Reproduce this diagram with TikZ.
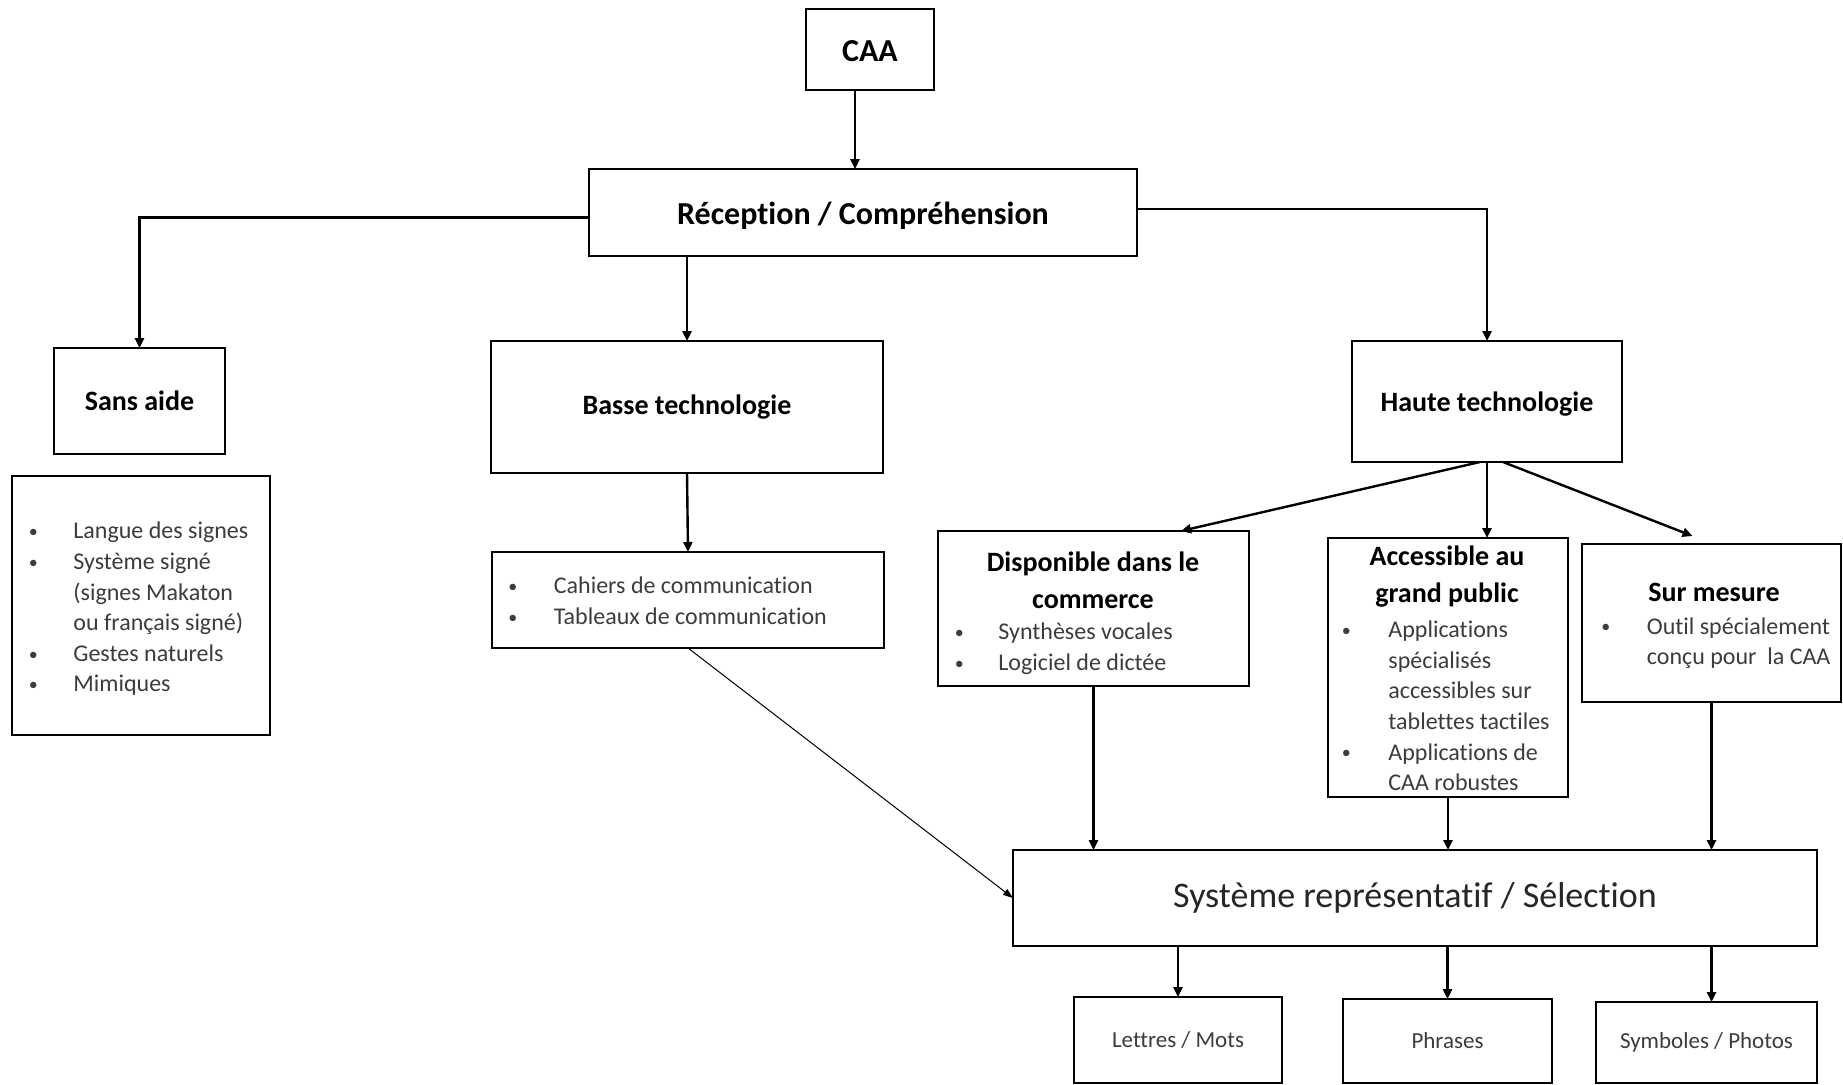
\documentclass[tikz,border=0pt]{standalone}
\usepackage{fontspec}
\setmainfont{Carlito}[Ligatures=NoCommon]
\usetikzlibrary{arrows.meta}
\definecolor{listgray}{RGB}{60,60,60}
\newcommand\bulx[1]{\makebox[0pt]{\raisebox{0.6pt}{\fontsize{9}{9}\selectfont •}}\hspace*{#1}}
\newcommand\indx[1]{\hspace*{#1}}
\begin{document}
\begin{tikzpicture}[x=0.5pt,y=-0.5pt,
  box/.style={draw=black,line width=1.4pt,inner sep=0pt,outer sep=0pt,fill=white},
  arr/.style={line width=1.2pt,-{Triangle[length=5pt,width=4.5pt]}},
  thinarr/.style={line width=0.5pt,-{Triangle[length=5pt,width=3.5pt]}},
  bigt/.style={font=\fontsize{16}{19}\selectfont\bfseries,text height=14pt,text depth=2pt},
  ttl/.style={font=\fontsize{14}{18.5}\selectfont\bfseries,align=center,inner sep=0pt},
  lst/.style={font=\fontsize{12}{15.3}\selectfont,align=left,inner sep=0pt,text=listgray},
  sml/.style={font=\fontsize{11.5}{14}\selectfont,text=listgray},
  syst/.style={font=\fontsize{18}{22}\selectfont,text=black!85}
]
\fill[white] (0,0) rectangle (1843,1084);
\useasboundingbox (0,0) rectangle (1843,1084);

% boxes
\node[box,bigt,minimum width=64pt,minimum height=40.5pt] (caa) at (870,49.5) {CAA};
\node[box,bigt,minimum width=274pt,minimum height=43.5pt] (rec) at (863,212.5) {Réception / Compréhension};
\node[box,ttl,minimum width=85.5pt,minimum height=53pt] (sans) at (139.5,401) {Sans aide};
\node[box,minimum width=129pt,minimum height=129.5pt] (sansl) at (141,605.5) {};
\node[box,ttl,minimum width=196pt,minimum height=66pt] (basse) at (687,407) {Basse technologie};
\node[box,minimum width=196pt,minimum height=48pt] (bassel) at (688,600) {};
\node[box,ttl,text height=12.5pt,text depth=2.5pt,minimum width=135pt,minimum height=60.5pt] (haute) at (1487,401.5) {Haute technologie};
\node[box,minimum width=155.5pt,minimum height=77.5pt] (disp) at (1093.5,608.5) {};
\node[box,minimum width=120pt,minimum height=129.5pt] (acc) at (1448,667.5) {};
\node[box,minimum width=129.5pt,minimum height=79pt] (sur) at (1711.5,623) {};
\node[box,syst,minimum width=402pt,minimum height=48pt] (sys) at (1415,898) {Système représentatif / Sélection};
\node[box,sml,minimum width=104pt,minimum height=43pt] (let) at (1178,1040) {Lettres / Mots};
\node[box,sml,minimum width=104.5pt,minimum height=42pt] (phr) at (1447.5,1041) {Phrases};
\node[box,sml,minimum width=110.5pt,minimum height=40.5pt] (sym) at (1706.5,1042.5) {Symboles / Photos};

% texts inside list boxes
\node[lst,anchor=west] (sanst) at (33,609) {\bulx{20pt}Langue des signes\\\bulx{20pt}Système signé\\\indx{20pt}(signes Makaton\\\indx{20pt}ou français signé)\\\bulx{20pt}Gestes naturels\\\bulx{20pt}Mimiques};
\node[lst,anchor=west] (basset) at (512.5,601) {\bulx{20.5pt}Cahiers de communication\\\bulx{20.5pt}Tableaux de communication};
\node[ttl] (dispt) at (1093,580) {Disponible dans le\\commerce};
\node[lst,anchor=west] (dispi) at (959,649) {\bulx{19.5pt}Synthèses vocales\\\bulx{19.5pt}Logiciel de dictée};
\node[ttl] (acct) at (1447,577) {Accessible au\\grand public};
\node[lst,anchor=west] (acci) at (1346,706) {\bulx{21pt}Applications\\\indx{21pt}spécialisés\\\indx{21pt}accessibles sur\\\indx{21pt}tablettes tactiles\\\bulx{21pt}Applications de\\\indx{21pt}CAA robustes};
\node[ttl] (surt) at (1714,592) {Sur mesure};
\node[lst,anchor=west] (suri) at (1605.5,643) {\bulx{20.5pt}Outil spécialement\\\indx{20.5pt}conçu pour\ \ la CAA};

% connectors
\coordinate (c1) at ([xshift=-7.5pt]caa.south);
\draw[arr] (c1) -- (c1 |- rec.north);
\coordinate (recl) at ([yshift=-2.5pt]rec.west);
\coordinate (recr) at ([yshift=1.75pt]rec.east);
\draw[arr] (recl) -| (sans.north);
\draw[arr] (rec.south -| basse.north) -- (basse.north);
\draw[arr] (recr) -| (haute.north);
\draw[arr] (basse.south) -- (bassel.north);
\draw[arr] ([xshift=-3.5pt]haute.south) -- ([xshift=43.75pt]disp.north);
\draw[arr] (haute.south) -- (haute.south |- acc.north);
\coordinate (surtip) at ([xshift=-9.5pt,yshift=4pt]sur.north);
\draw[arr] ([xshift=8pt]haute.south) -- (surtip);
\draw[thinarr] (bassel.south) -- (sys.west);
\draw[arr] (disp.south) -- (disp.south |- sys.north);
\draw[arr] (acc.south) -- (acc.south |- sys.north);
\draw[arr] (sur.south) -- (sur.south |- sys.north);
\draw[arr] (sys.south -| let.north) -- (let.north);
\draw[arr] (sys.south -| phr.north) -- (phr.north);
\coordinate (c2) at (sur.south |- sys.south);
\draw[arr] (c2) -- (c2 |- sym.north);
\end{tikzpicture}
\end{document}
